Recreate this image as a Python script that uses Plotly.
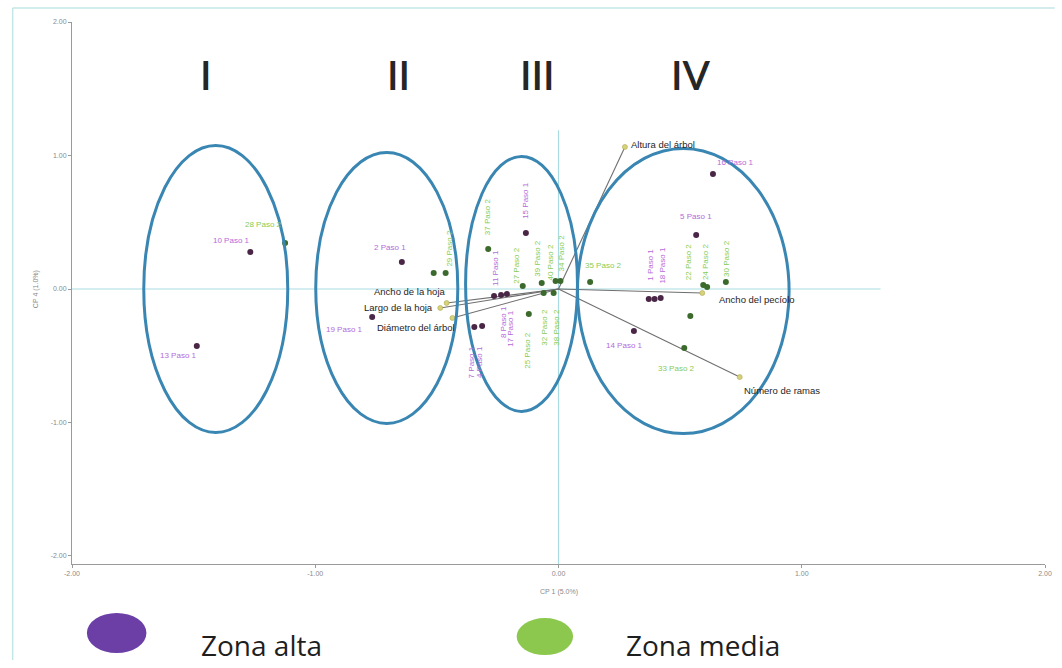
import plotly.graph_objects as go

# --- Observations on the first two principal components -------------------
alta_labels = ["10 Paso 1", "13 Paso 1", "2 Paso 1", "19 Paso 1", "15 Paso 1",
               "11 Paso 1", "8 Paso 1", "17 Paso 1", "7 Paso 1", "4 Paso 1",
               "16 Paso 1", "5 Paso 1", "1 Paso 1", "18 Paso 1", "", "14 Paso 1"]
alta_x = [-1.267, -1.487, -0.644, -0.766, -0.134,
          -0.265, -0.236, -0.212, -0.346, -0.314,
          0.635, 0.566, 0.371, 0.395, 0.420, 0.310]
alta_y = [0.277, -0.427, 0.202, -0.210, 0.420,
          -0.052, -0.045, -0.037, -0.285, -0.277,
          0.862, 0.405, -0.075, -0.075, -0.067, -0.315]

media_labels = ["28 Paso 2", "29 Paso 2", "", "37 Paso 2", "27 Paso 2",
                "39 Paso 2", "40 Paso 2", "34 Paso 2", "25 Paso 2", "32 Paso 2",
                "38 Paso 2", "35 Paso 2", "22 Paso 2", "24 Paso 2", "30 Paso 2",
                "", "33 Paso 2"]
media_x = [-1.124, -0.464, -0.513, -0.289, -0.147,
           -0.069, -0.012, 0.008, -0.122, -0.061,
           -0.020, 0.130, 0.595, 0.611, 0.688,
           0.542, 0.517]
media_y = [0.345, 0.120, 0.120, 0.300, 0.022,
           0.045, 0.060, 0.060, -0.187, -0.030,
           -0.030, 0.052, 0.030, 0.015, 0.052,
           -0.202, -0.442]

# --- Variable loadings (biplot vectors) -----------------------------------
var_names = ["Altura del árbol", "Ancho del pecíolo", "Número de ramas",
             "Ancho de la hoja", "Largo de la hoja", "Diámetro del árbol"]
var_x = [0.273, 0.591, 0.745, -0.460, -0.486, -0.436]
var_y = [1.064, -0.030, -0.660, -0.105, -0.142, -0.217]

# --- Groups (ellipses) ------------------------------------------------------
group_names = ["I", "II", "III", "IV"]
group_cx = [-1.409, -0.706, -0.152, 0.513]
group_cy = [0.0, 0.008, 0.038, -0.015]
group_rx = [0.296, 0.292, 0.230, 0.435]
group_ry = [1.075, 1.015, 0.955, 1.068]

x_ticks = [-2, -1, 0, 1, 2]
y_ticks = [-2, -1, 0, 1, 2]

# label placement: (dx px, dy px, vertical?)
label_pos = {
    "10 Paso 1": (-19, -12, False), "13 Paso 1": (-18, 9, False),
    "2 Paso 1": (-12, -15, False), "19 Paso 1": (-28, 12, False),
    "15 Paso 1": (0, -33, True), "11 Paso 1": (2, -28, True),
    "8 Paso 1": (2, 27, True), "17 Paso 1": (4, 34, True),
    "7 Paso 1": (-3, 35, True), "4 Paso 1": (-2, 36, True),
    "16 Paso 1": (23, -11, False), "5 Paso 1": (0, -18, False),
    "1 Paso 1": (1, -34, True), "18 Paso 1": (7, -34, True),
    "14 Paso 1": (-9, 14, False),
    "28 Paso 2": (-22, -18, False), "29 Paso 2": (4, -25, True),
    "37 Paso 2": (0, -32, True), "27 Paso 2": (-7, -21, True),
    "39 Paso 2": (-4, -25, True), "40 Paso 2": (-5, -19, True),
    "34 Paso 2": (2, -28, True), "25 Paso 2": (-1, 36, True),
    "32 Paso 2": (0, 34, True), "38 Paso 2": (2, 34, True),
    "35 Paso 2": (13, -17, False), "22 Paso 2": (-14, -23, True),
    "24 Paso 2": (-1, -25, True), "30 Paso 2": (0, -24, True),
    "33 Paso 2": (-8, 20, False),
}

# vector label placement: (anchor, dx, dy)
var_label_pos = {
    "Altura del árbol": ("left", 4, 2),
    "Ancho del pecíolo": ("left", 15, -6),
    "Número de ramas": ("left", 2, -13),
    "Ancho de la hoja": ("right", 0, 12),
    "Largo de la hoja": ("right", -5, 0),
    "Diámetro del árbol": ("right", 5, -10),
}

ALTA_DOT = "#4a2646"
MEDIA_DOT = "#3c6a2c"
ALTA_TXT = "#b56ad8"
MEDIA_TXT = "#86cc55"
ELLIPSE = "#3a86b3"
REF = "#a9dbe2"
LABEL_FONT = "Liberation Sans Narrow, Liberation Sans, Arial"

fig = go.Figure()

# loading vectors
for name, vx, vy in zip(var_names, var_x, var_y):
    fig.add_trace(go.Scatter(
        x=[0, vx], y=[0, vy], mode="lines",
        line=dict(color="#6f6f6f", width=1.1),
        hoverinfo="skip", showlegend=False))
fig.add_trace(go.Scatter(
    x=var_x, y=var_y, mode="markers",
    marker=dict(size=5, color="#d6d27a", line=dict(color="#b0aa55", width=0.6)),
    hovertext=var_names, showlegend=False))

# observations
fig.add_trace(go.Scatter(
    x=alta_x, y=alta_y, mode="markers", name="Zona alta",
    marker=dict(size=6, color=ALTA_DOT), hovertext=alta_labels, showlegend=False))
fig.add_trace(go.Scatter(
    x=media_x, y=media_y, mode="markers", name="Zona media",
    marker=dict(size=6, color=MEDIA_DOT), hovertext=media_labels, showlegend=False))

annotations = []
for labels, xs, ys, col in ((alta_labels, alta_x, alta_y, ALTA_TXT),
                            (media_labels, media_x, media_y, MEDIA_TXT)):
    for lab, px, py in zip(labels, xs, ys):
        if not lab:
            continue
        dx, dy, vert = label_pos[lab]
        annotations.append(dict(
            x=px, y=py, xref="x", yref="y", text=lab, showarrow=False,
            xshift=dx, yshift=-dy, textangle=-90 if vert else 0,
            font=dict(size=8, color=col, family=LABEL_FONT)))

for name, vx, vy in zip(var_names, var_x, var_y):
    anchor, dx, dy = var_label_pos[name]
    annotations.append(dict(
        x=vx, y=vy, xref="x", yref="y", text=name, showarrow=False,
        xanchor=anchor, xshift=dx, yshift=dy,
        font=dict(size=9.5, color="#1e1e1e", family=LABEL_FONT)))

# group numerals
numeral_x = [0.130, 0.322, 0.478, 0.636]
for g, nx in zip(group_names, numeral_x):
    annotations.append(dict(
        x=nx, y=0.902, xref="paper", yref="paper", text=g, showarrow=False,
        yanchor="middle",
        font=dict(size=40, color="#262626", family="Lato", weight=600)))

# axis titles
annotations.append(dict(x=0, y=-2.06, xref="x", yref="y", yshift=-28,
                        text="CP 1 (5.0%)", showarrow=False,
                        font=dict(size=7, color="#8a8a8a", family=LABEL_FONT)))
annotations.append(dict(x=-0.043, y=0, xref="paper", yref="y",
                        text="CP 4 (1.0%)", showarrow=False, textangle=-90,
                        font=dict(size=7, color="#8a8a8a", family=LABEL_FONT)))

# legend drawn under the plot
annotations.append(dict(x=0.131, y=-0.1494, xref="paper", yref="paper",
                        xanchor="left", yanchor="middle", text="Zona alta",
                        showarrow=False,
                        font=dict(size=28, color="#1e1e1e", family="Open Sans")))
annotations.append(dict(x=0.567, y=-0.1494, xref="paper", yref="paper",
                        xanchor="left", yanchor="middle", text="Zona media",
                        showarrow=False,
                        font=dict(size=28, color="#1e1e1e", family="Open Sans")))

shapes = []
# reference lines through the origin
shapes.append(dict(type="line", xref="x", yref="y", x0=-2, x1=1.324, y0=0, y1=0,
                   line=dict(color=REF, width=1.2), layer="below"))
shapes.append(dict(type="line", xref="x", yref="y", x0=0, x1=0, y0=-2.06, y1=1.19,
                   line=dict(color=REF, width=1.2), layer="below"))
# group ellipses
for cx, cy, rx, ry in zip(group_cx, group_cy, group_rx, group_ry):
    shapes.append(dict(type="circle", xref="x", yref="y",
                       x0=cx - rx, x1=cx + rx, y0=cy - ry, y1=cy + ry,
                       line=dict(color=ELLIPSE, width=3)))
# legend swatches
shapes.append(dict(type="circle", xref="paper", yref="paper",
                   x0=0.0153, x1=0.0765, y0=-0.1642, y1=-0.0904,
                   fillcolor="#6b3fa6", line=dict(width=0)))
shapes.append(dict(type="circle", xref="paper", yref="paper",
                   x0=0.457, x1=0.515, y0=-0.168, y1=-0.0996,
                   fillcolor="#8cc84e", line=dict(width=0)))
# thin outer frame (left and top edges)
shapes.append(dict(type="line", xref="paper", yref="paper",
                   x0=-0.061, x1=-0.061, y0=-0.177, y1=1.026,
                   line=dict(color="#c4e6e6", width=1.5)))
shapes.append(dict(type="line", xref="paper", yref="paper",
                   x0=-0.061, x1=1.01, y0=1.026, y1=1.026,
                   line=dict(color="#c4e6e6", width=1.5)))

axis_common = dict(showgrid=False, zeroline=False, showline=True,
                   linecolor="#9a9a9a", linewidth=1, ticks="outside",
                   ticklen=3, tickcolor="#9a9a9a",
                   tickfont=dict(size=7, color="#8a8a8a", family=LABEL_FONT))

fig.update_layout(
    width=1062, height=668,
    margin=dict(l=72, r=10, t=22, b=104),
    paper_bgcolor="white", plot_bgcolor="white",
    xaxis=dict(range=[-2, 2], tickvals=x_ticks,
               ticktext=[f"{v:.2f}" for v in x_ticks], **axis_common),
    yaxis=dict(range=[-2.06, 2.0], tickvals=y_ticks,
               ticktext=[f"{v:.2f}" for v in y_ticks], **axis_common),
    annotations=annotations, shapes=shapes,
    showlegend=False,
)

fig.write_html("out.html")
